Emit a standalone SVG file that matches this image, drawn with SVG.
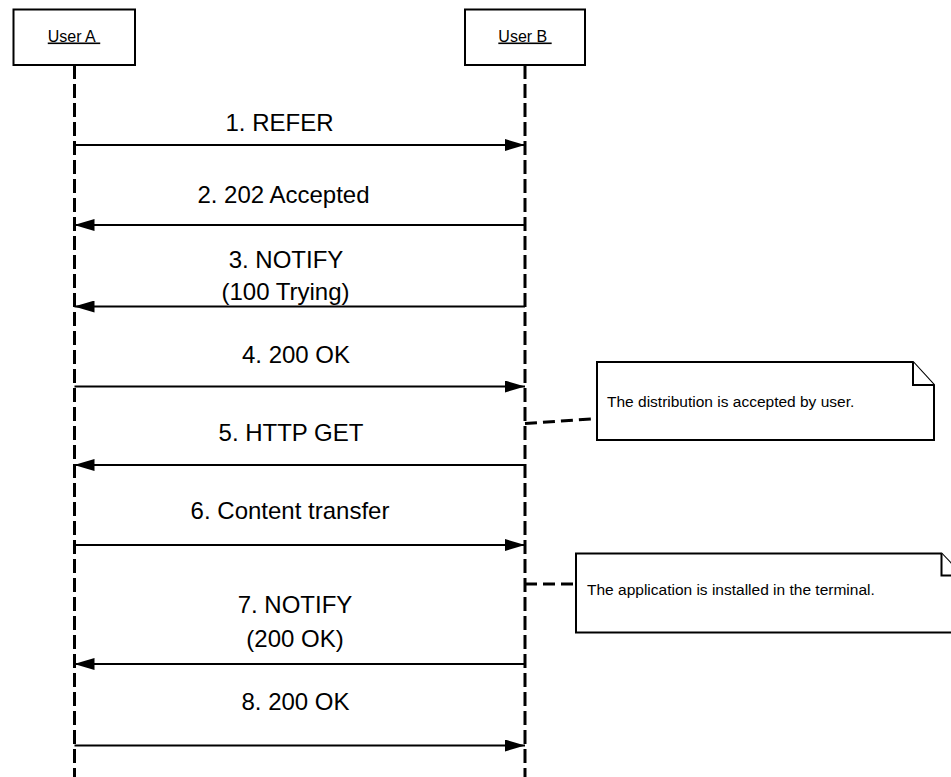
<svg xmlns="http://www.w3.org/2000/svg" width="951" height="777" viewBox="0 0 951 777">
<style>
.box{fill:#fff;stroke:#000;stroke-width:2}
.life{fill:none;stroke:#000;stroke-width:3;stroke-dasharray:14,5}
.msg{fill:none;stroke:#000;stroke-width:2;marker-end:url(#ah)}
.lbl{font-family:"Liberation Sans",Arial,sans-serif;font-size:24px;fill:#000;text-anchor:middle}
.usr{font-family:"Liberation Sans",Arial,sans-serif;font-size:16px;fill:#000;text-anchor:middle;text-decoration:underline}
.nt{font-family:"Liberation Sans",Arial,sans-serif;font-size:15.5px;fill:#000}
.note{fill:#fff;stroke:#000;stroke-width:2;stroke-linejoin:miter}
.link{fill:none;stroke:#000;stroke-width:3;stroke-dasharray:12,6}
</style>
<defs>
<marker id="ah" markerWidth="20" markerHeight="12" refX="20" refY="6" orient="auto" markerUnits="userSpaceOnUse">
<path d="M0,0 L20,6 L0,12 z" fill="#000"/>
</marker>
</defs>
<rect width="951" height="777" fill="#fff"/>
<g id="lifelines">
<line class="life" x1="74.5" y1="65" x2="74.5" y2="777"/>
<line class="life" x1="525" y1="65" x2="525" y2="777"/>
</g>
<g id="userA">
<rect class="box" x="13.5" y="9.5" width="121.5" height="55.5"/>
<text class="usr" x="74" y="41.5">User A&#160;</text>
</g>
<g id="userB">
<rect class="box" x="465" y="9.5" width="120" height="55.5"/>
<text class="usr" x="525" y="41.5">User B&#160;</text>
</g>
<g id="connectors">
<line class="msg" x1="74.5" y1="145" x2="525" y2="145"/>
<text class="lbl" x="279.5" y="131">1. REFER</text>
<line class="msg" x1="525" y1="225" x2="74.5" y2="225"/>
<text class="lbl" x="283.5" y="203">2. 202 Accepted</text>
<line class="msg" x1="525" y1="306.5" x2="74.5" y2="306.5"/>
<text class="lbl" x="286" y="268">3. NOTIFY</text>
<text class="lbl" x="285.5" y="300">(100 Trying)</text>
<line class="msg" x1="74.5" y1="386.5" x2="525" y2="386.5"/>
<text class="lbl" x="296" y="363">4. 200 OK</text>
<line class="msg" x1="525" y1="465" x2="74.5" y2="465"/>
<text class="lbl" x="291" y="441">5. HTTP GET</text>
<line class="msg" x1="74.5" y1="545" x2="525" y2="545"/>
<text class="lbl" x="290" y="519">6. Content transfer</text>
<line class="msg" x1="525" y1="664" x2="74.5" y2="664"/>
<text class="lbl" x="295" y="613">7. NOTIFY</text>
<text class="lbl" x="295" y="647">(200 OK)</text>
<line class="msg" x1="74.5" y1="745.5" x2="525" y2="745.5"/>
<text class="lbl" x="295.5" y="710">8. 200 OK</text>
<line class="link" x1="525" y1="423.5" x2="597" y2="418.5"/>
<line class="link" x1="525" y1="584" x2="576" y2="584"/>
</g>
<g id="note1">
<path class="note" d="M597,362 L913,362 L934,385 L934,440 L597,440 Z"/>
<path class="note" d="M913,362 L913,385 L934,385"/>
<text class="nt" x="607" y="407">The distribution is accepted by user.</text>
</g>
<g id="note2">
<path class="note" d="M576,553.5 L941.5,553.5 L962.5,575.5 L962.5,632.5 L576,632.5 Z"/>
<path class="note" d="M941.5,553.5 L941.5,575.5 L962.5,575.5"/>
<text class="nt" x="587" y="595">The application is installed in the terminal.</text>
</g>
</svg>
